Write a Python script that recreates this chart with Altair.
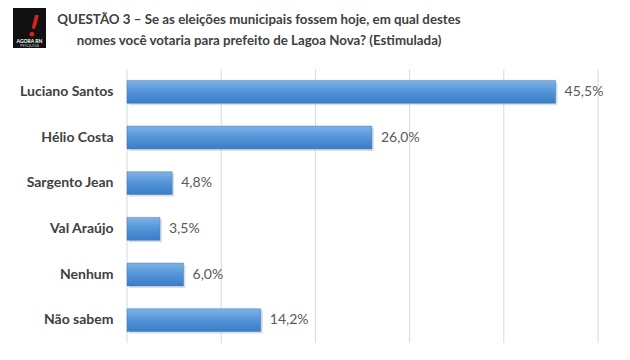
import altair as alt
import pandas as pd

categories = ["Luciano Santos", "Hélio Costa", "Sargento Jean", "Val Araújo", "Nenhum", "Não sabem"]
values = [45.5, 26.0, 4.8, 3.5, 6.0, 14.2]
labels = ["45,5%", "26,0%", "4,8%", "3,5%", "6,0%", "14,2%"]
grid_values = [0, 10, 20, 30, 40, 50]
title_lines = [
    "QUESTÃO 3 – Se as eleições municipais fossem hoje, em qual destes",
    "nomes você votaria para prefeito de Lagoa Nova? (Estimulada)",
]

df = pd.DataFrame({"cat": categories, "val": values, "lab": labels})
gdf = pd.DataFrame({"g": grid_values})

FONT = "Lato"

y_enc = alt.Y("cat:N", sort=categories, title=None,
              scale=alt.Scale(paddingInner=0.5, paddingOuter=0.25),
              axis=alt.Axis(domain=False, ticks=False, labelFont=FONT, labelFontSize=14,
                            labelFontWeight="bold", labelColor="#404040", labelPadding=14))
xscale = alt.Scale(domain=[0, 50], nice=False)
x_enc = alt.X("val:Q", title=None, scale=xscale, axis=None)

grid = alt.Chart(gdf).mark_rule(color="#d9d9d9", strokeWidth=1).encode(
    x=alt.X("g:Q", scale=xscale, axis=None))

base = alt.Chart(df)

shadow = base.mark_bar(color="#b8c4d0", opacity=0.5, xOffset=2, yOffset=2).encode(x=x_enc, y=y_enc)

bars = base.mark_bar(
    color=alt.Gradient(
        gradient="linear",
        stops=[alt.GradientStop(color="#7fb2e5", offset=0),
               alt.GradientStop(color="#5294d8", offset=0.5),
               alt.GradientStop(color="#3b7cc4", offset=1)],
        x1=0, x2=0, y1=0, y2=1),
    stroke="#3f7bbf", strokeWidth=0.5,
).encode(x=x_enc, y=y_enc)

text = base.mark_text(align="left", dx=9, font=FONT, fontSize=14, color="#595959").encode(
    x=x_enc, y=y_enc, text="lab:N")

one = pd.DataFrame({"a": [0]})

frame = alt.Chart(one).mark_rect(
    fill=None, stroke="#d0d0d0", strokeWidth=1).encode(
    x=alt.value(-119.5), x2=alt.value(489.5), y=alt.value(-75), y2=alt.value(286.5))

title1 = alt.Chart(one).mark_text(
    text=title_lines[0], font=FONT, fontSize=13.3, fontWeight="bold", color="#404040").encode(
    x=alt.value(132), y=alt.value(-49))
title2 = alt.Chart(one).mark_text(
    text=title_lines[1], font=FONT, fontSize=13.3, fontWeight="bold", color="#404040").encode(
    x=alt.value(132), y=alt.value(-28))

logo = alt.Chart(one).mark_rect(color="#111111").encode(
    x=alt.value(-114), x2=alt.value(-81), y=alt.value(-75), y2=alt.value(-21))
excl = alt.Chart(one).mark_text(
    text="!", color="#e0201b", fontSize=30, font=FONT, fontWeight="bold", angle=15,
    baseline="alphabetic").encode(
    x=alt.value(-96), y=alt.value(-33))
logo_txt = alt.Chart(one).mark_text(
    text="AGORA RN", color="#ffffff", fontSize=5, font=FONT, fontWeight="bold").encode(
    x=alt.value(-97.5), y=alt.value(-28))
logo_txt2 = alt.Chart(one).mark_text(
    text="PESQUISA", color="#bbbbbb", fontSize=4, font=FONT).encode(
    x=alt.value(-97.5), y=alt.value(-23.5))

chart = alt.layer(frame, grid, shadow, bars, text, title1, title2, logo, excl, logo_txt, logo_txt2).properties(
    width=471, height=274,
    autosize=alt.AutoSizeParams(type="none"),
    padding={"left": 119, "top": 61, "right": 10, "bottom": 10},
).configure_view(stroke=None)

chart.save("out.html", embed_options={"renderer": "svg", "actions": False})
